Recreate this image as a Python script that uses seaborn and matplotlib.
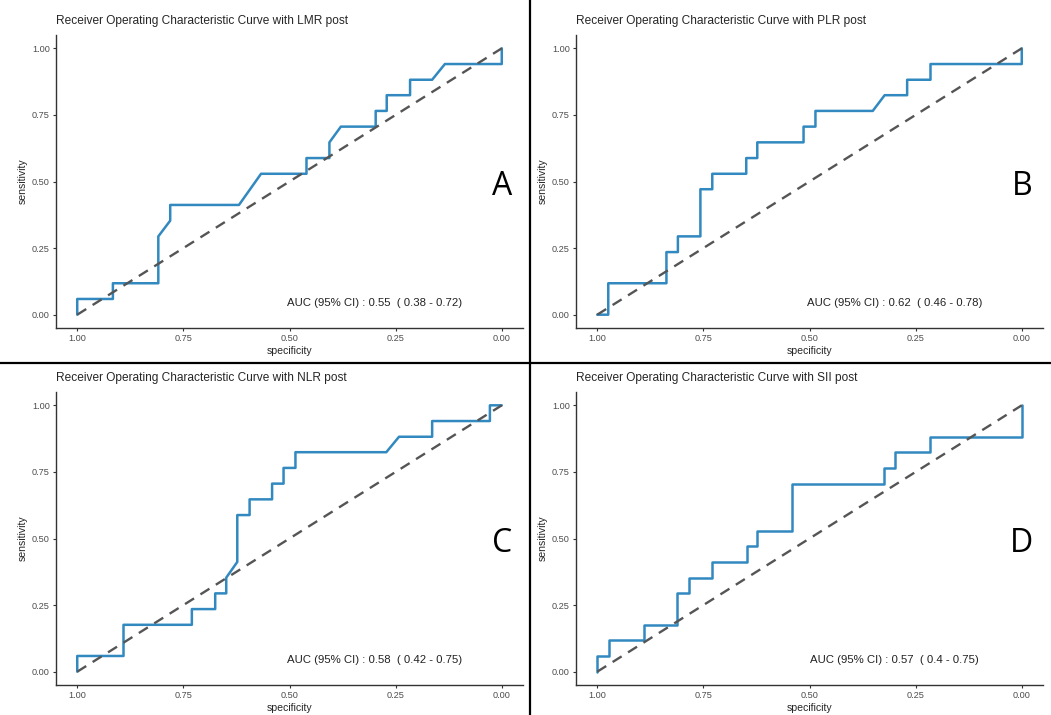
import matplotlib
matplotlib.use("Agg")
import matplotlib.pyplot as plt
import seaborn as sns
import pandas as pd

# ROC points (specificity, sensitivity)
SPEC_LMR = [1.000, 1.000, 0.916, 0.916, 0.809, 0.809, 0.781, 0.781, 0.619, 0.567, 0.460, 0.460, 0.406,
            0.406, 0.379, 0.297, 0.297, 0.271, 0.271, 0.216, 0.216, 0.164, 0.134, 0.000, 0.000]
SENS_LMR = [0.000, 0.059, 0.059, 0.118, 0.118, 0.294, 0.353, 0.412, 0.412, 0.529, 0.529, 0.588, 0.588,
            0.647, 0.706, 0.706, 0.765, 0.765, 0.824, 0.824, 0.882, 0.882, 0.941, 0.941, 1.000]

SPEC_PLR = [1.000, 0.974, 0.974, 0.837, 0.837, 0.810, 0.810, 0.757, 0.757, 0.729, 0.729, 0.649, 0.649, 0.623,
            0.623, 0.514, 0.514, 0.486, 0.486, 0.351, 0.323, 0.270, 0.270, 0.215, 0.215, 0.000, 0.000]
SENS_PLR = [0.000, 0.000, 0.118, 0.118, 0.235, 0.235, 0.294, 0.294, 0.471, 0.471, 0.529, 0.529, 0.588, 0.588,
            0.647, 0.647, 0.706, 0.706, 0.765, 0.765, 0.824, 0.824, 0.882, 0.882, 0.941, 0.941, 1.000]

SPEC_NLR = [1.000, 1.000, 0.891, 0.891, 0.730, 0.730, 0.675, 0.675, 0.649, 0.649, 0.623, 0.623, 0.594, 0.594,
            0.541, 0.541, 0.514, 0.514, 0.486, 0.486, 0.272, 0.242, 0.164, 0.164, 0.028, 0.028, 0.000]
SENS_NLR = [0.000, 0.059, 0.059, 0.176, 0.176, 0.235, 0.235, 0.294, 0.294, 0.353, 0.412, 0.588, 0.588, 0.647,
            0.647, 0.706, 0.706, 0.765, 0.765, 0.824, 0.824, 0.882, 0.882, 0.941, 0.941, 1.000, 1.000]

SPEC_SII = [1.000, 1.000, 0.973, 0.973, 0.890, 0.890, 0.812, 0.812, 0.784, 0.784, 0.729, 0.729, 0.648,
            0.648, 0.623, 0.623, 0.541, 0.541, 0.325, 0.325, 0.298, 0.298, 0.215, 0.215, 0.000, 0.000]
SENS_SII = [0.000, 0.059, 0.059, 0.118, 0.118, 0.176, 0.176, 0.294, 0.294, 0.353, 0.353, 0.412, 0.412,
            0.471, 0.471, 0.529, 0.529, 0.706, 0.706, 0.765, 0.765, 0.824, 0.824, 0.882, 0.882, 1.000]

# chance line
CHANCE_SPEC = [1.0, 0.0]
CHANCE_SENS = [0.0, 1.0]

MARKERS = ["LMR", "PLR", "NLR", "SII"]
LETTERS = ["A", "B", "C", "D"]
AUC_TEXT = [
    "AUC (95% CI) : 0.55  ( 0.38 - 0.72)",
    "AUC (95% CI) : 0.62  ( 0.46 - 0.78)",
    "AUC (95% CI) : 0.58  ( 0.42 - 0.75)",
    "AUC (95% CI) : 0.57  ( 0.4 - 0.75)",
]
CURVES = [(SPEC_LMR, SENS_LMR), (SPEC_PLR, SENS_PLR), (SPEC_NLR, SENS_NLR), (SPEC_SII, SENS_SII)]
TICKS = [0.0, 0.25, 0.5, 0.75, 1.0]

sns.set_theme(style="ticks")
plt.rcParams['font.family'] = ['Liberation Sans', 'DejaVu Sans']

W, H = 1051, 715
fig = plt.figure(figsize=(W / 100, H / 100), dpi=100)

# axes boxes in pixels: (left, top) of the data area
BOXES = [(56, 35), (576, 35), (56, 392), (576, 392)]
AX_W, AX_H = 467, 293


def draw_panel(ax, spec, sens, marker, letter, auc):
    df = pd.DataFrame({"specificity": spec, "sensitivity": sens})
    sns.lineplot(data=df, x="specificity", y="sensitivity", sort=False, estimator=None,
                 color="#3189c0", linewidth=1.8, ax=ax, zorder=2)
    ax.plot(CHANCE_SPEC, CHANCE_SENS, color="#555555", linewidth=1.7,
            linestyle=(0, (4.5, 3.2)), zorder=3)
    ax.set_xlim(1.05, -0.05)
    ax.set_ylim(-0.05, 1.05)
    ax.set_xticks(TICKS)
    ax.set_yticks(TICKS)
    ax.set_xticklabels([f"{t:.2f}" for t in TICKS])
    ax.set_yticklabels([f"{t:.2f}" for t in TICKS])
    ax.tick_params(labelsize=6.6, labelcolor="#4d4d4d", length=2.5, width=0.8, color="#333333", pad=2)
    for side in ["left", "bottom"]:
        ax.spines[side].set_color("#333333")
        ax.spines[side].set_linewidth(1.0)
    sns.despine(ax=ax)
    ax.set_xlabel("specificity", fontsize=7.6, labelpad=2)
    ax.set_ylabel("sensitivity", fontsize=7.6, labelpad=3)
    ax.set_title(f"Receiver Operating Characteristic Curve with {marker} post",
                 loc="left", fontsize=8.6, pad=8)
    ax.text(0.30, 0.045, auc, fontsize=8.2, ha="center", va="center", color="#222222")
    ax.text(0.0, 0.48, letter, fontsize=23, ha="center", va="center", color="black", family="Open Sans")


for (left, top), (spec, sens), marker, letter, auc in zip(BOXES, CURVES, MARKERS, LETTERS, AUC_TEXT):
    ax = fig.add_axes([left / W, 1 - (top + AX_H) / H, AX_W / W, AX_H / H])
    draw_panel(ax, spec, sens, marker, letter, auc)

# panel dividers
fig.add_artist(plt.Line2D([530 / W, 530 / W], [0, 1], color="black", linewidth=1.6))
fig.add_artist(plt.Line2D([0, 1], [1 - 363 / H, 1 - 363 / H], color="black", linewidth=1.6))

fig.savefig("out.png", dpi=100)
